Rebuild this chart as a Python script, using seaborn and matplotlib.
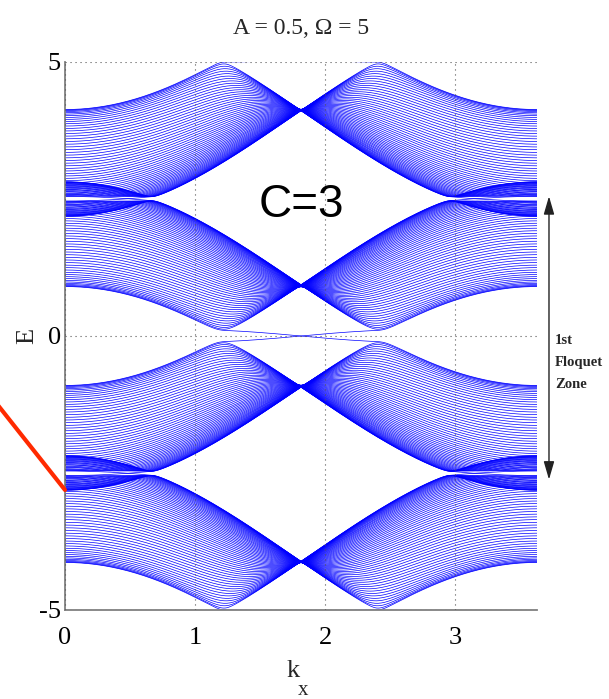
import numpy as np
import pandas as pd
import matplotlib
matplotlib.use("Agg")
import matplotlib.pyplot as plt
import seaborn as sns
from matplotlib.patches import FancyArrowPatch

# ---- model parameters: zigzag graphene ribbon under circularly polarised light ----
A_FIELD = 0.5          # vector-potential amplitude
OMEGA = 5.0            # drive frequency
HOPPING = 1.0          # nearest-neighbour hopping
N_CHAINS = 60          # zigzag chains across the ribbon
PHOTON_SECTORS = [-1, 0, 1]
N_TIME = 32            # time samples per period for the Fourier components
KX_MAX = 2 * np.pi / np.sqrt(3)
N_K = 301

# ---- axis / annotation values ----
X_TICKS = [0, 1, 2, 3]
Y_TICKS = [-5, 0, 5]
Y_LIM = [-5, 5]
TITLE = "A = 0.5, \u03a9 = 5"
CHERN_LABEL = "C=3"
CHERN_POS = [1.815, 2.17]
ZONE_LABEL = "1st\nFloquet\nZone"
ZONE_LIMITS = [2.55, -2.62]
POINTER_E = -2.81


def floquet_bands():
    s3 = np.sqrt(3.0)
    phi = 2 * np.pi * np.arange(N_TIME) / N_TIME
    ax_t = A_FIELD * np.cos(phi)
    ay_t = A_FIELD * np.sin(phi)
    kx = np.linspace(0.0, KX_MAX, N_K)
    kk = kx[:, None] + ax_t[None, :]
    f_intra = -HOPPING * (np.exp(1j * (kk * s3 / 2 + ay_t / 2))
                          + np.exp(1j * (-kk * s3 / 2 + ay_t / 2)))
    f_inter = -HOPPING * np.exp(1j * ay_t)
    F_intra = np.fft.fft(f_intra, axis=1) / N_TIME
    F_inter = np.fft.fft(f_inter) / N_TIME

    nsite = 2 * N_CHAINS
    a_idx = np.arange(0, nsite, 2)
    b_idx = a_idx + 1
    ns = len(PHOTON_SECTORS)
    energies = np.empty((N_K, ns * nsite))
    for ik in range(N_K):
        blocks = {}
        for n in range(-(ns - 1), ns):
            h = np.zeros((nsite, nsite), complex)
            h[a_idx, b_idx] = F_intra[ik, n % N_TIME]
            h[b_idx, a_idx] = np.conj(F_intra[ik, (-n) % N_TIME])
            h[b_idx[:-1], a_idx[1:]] = F_inter[n % N_TIME]
            h[a_idx[1:], b_idx[:-1]] = np.conj(F_inter[(-n) % N_TIME])
            blocks[n] = h
        HF = np.zeros((ns * nsite, ns * nsite), complex)
        for i, mi in enumerate(PHOTON_SECTORS):
            for j, mj in enumerate(PHOTON_SECTORS):
                blk = blocks[mi - mj].copy()
                if i == j:
                    blk += mi * OMEGA * np.eye(nsite)
                HF[i * nsite:(i + 1) * nsite, j * nsite:(j + 1) * nsite] = blk
        energies[ik] = np.linalg.eigvalsh(HF)
    return kx, energies


kx, energies = floquet_bands()
keep = np.where((energies.min(axis=0) < 5.3) & (energies.max(axis=0) > -5.3))[0]
df = pd.DataFrame({
    "k_x": np.repeat(kx, len(keep)),
    "E": energies[:, keep].ravel(),
    "band": np.tile(keep, len(kx)),
})

sns.set_theme(style="white")
plt.rcParams["font.family"] = ["Liberation Serif", "DejaVu Serif"]

W, H = 609, 699
fig = plt.figure(figsize=(W / 100, H / 100), dpi=100)
ax = fig.add_axes([65 / W, 1 - 610 / H, (537 - 65) / W, (610 - 62) / H])

sns.lineplot(data=df, x="k_x", y="E", units="band", estimator=None, sort=False,
             color="#0000ff", linewidth=0.5, ax=ax, legend=False)

ax.set_xlim(0, KX_MAX)
ax.set_ylim(*Y_LIM)
ax.set_xticks(X_TICKS)
ax.set_yticks(Y_TICKS)
ax.set_xticklabels([str(v) for v in X_TICKS])
ax.set_yticklabels([str(v) for v in Y_TICKS])

grid_col = "#555555"
ax.grid(True, color=grid_col, linestyle=(0, (1, 3.5)), linewidth=0.8)
ax.set_axisbelow(False)
for side in ("top", "right"):
    ax.spines[side].set_visible(False)
for side in ("left", "bottom"):
    ax.spines[side].set_color("#808080")
    ax.spines[side].set_linewidth(1.3)
ax.tick_params(axis="both", direction="in", length=4, width=1, color="#808080",
               labelsize=19, labelcolor="black")
ax.tick_params(axis="x", pad=12)
ax.tick_params(axis="y", pad=3)

ax.set_title(TITLE, fontsize=17, pad=20)

# k with a lowered subscript x
ax.set_xlabel("k", fontsize=19)
ax.xaxis.set_label_coords(0.484, -0.1223)
ax.xaxis.label.set_verticalalignment("baseline")
ax.text(0.504, -0.155, "x", transform=ax.transAxes, ha="center", va="baseline",
        fontsize=15)

ax.set_ylabel("E", fontsize=19)
ax.yaxis.set_label_coords(-0.056, 0.5)

ax.text(CHERN_POS[0], CHERN_POS[1], CHERN_LABEL, ha="center", va="baseline",
        fontsize=33, family=["Liberation Sans", "DejaVu Sans"], color="black")

# first Floquet zone marker on the right
trans = ax.get_yaxis_transform()
arrow = FancyArrowPatch((1.0254, ZONE_LIMITS[0]), (1.0254, ZONE_LIMITS[1]),
                        transform=trans, arrowstyle="<|-|>,head_length=1.1,head_width=0.32",
                        mutation_scale=10, color="#222222", linewidth=1.0,
                        clip_on=False, shrinkA=0, shrinkB=0)
ax.add_patch(arrow)
ax.text(1.038, 0.04, ZONE_LABEL, transform=trans, ha="left", va="top",
        fontsize=10.5, fontweight="bold", linespacing=1.9, clip_on=False)

# pointer to the resonance gap at k_x = 0
ax.annotate("", xy=(0, POINTER_E), xycoords="data",
            xytext=(-3, H - 404), textcoords="figure pixels",
            arrowprops=dict(arrowstyle="-", color="#ff2a00", lw=3,
                            shrinkA=0, shrinkB=0),
            annotation_clip=False)

fig.savefig("out.png", dpi=100)
